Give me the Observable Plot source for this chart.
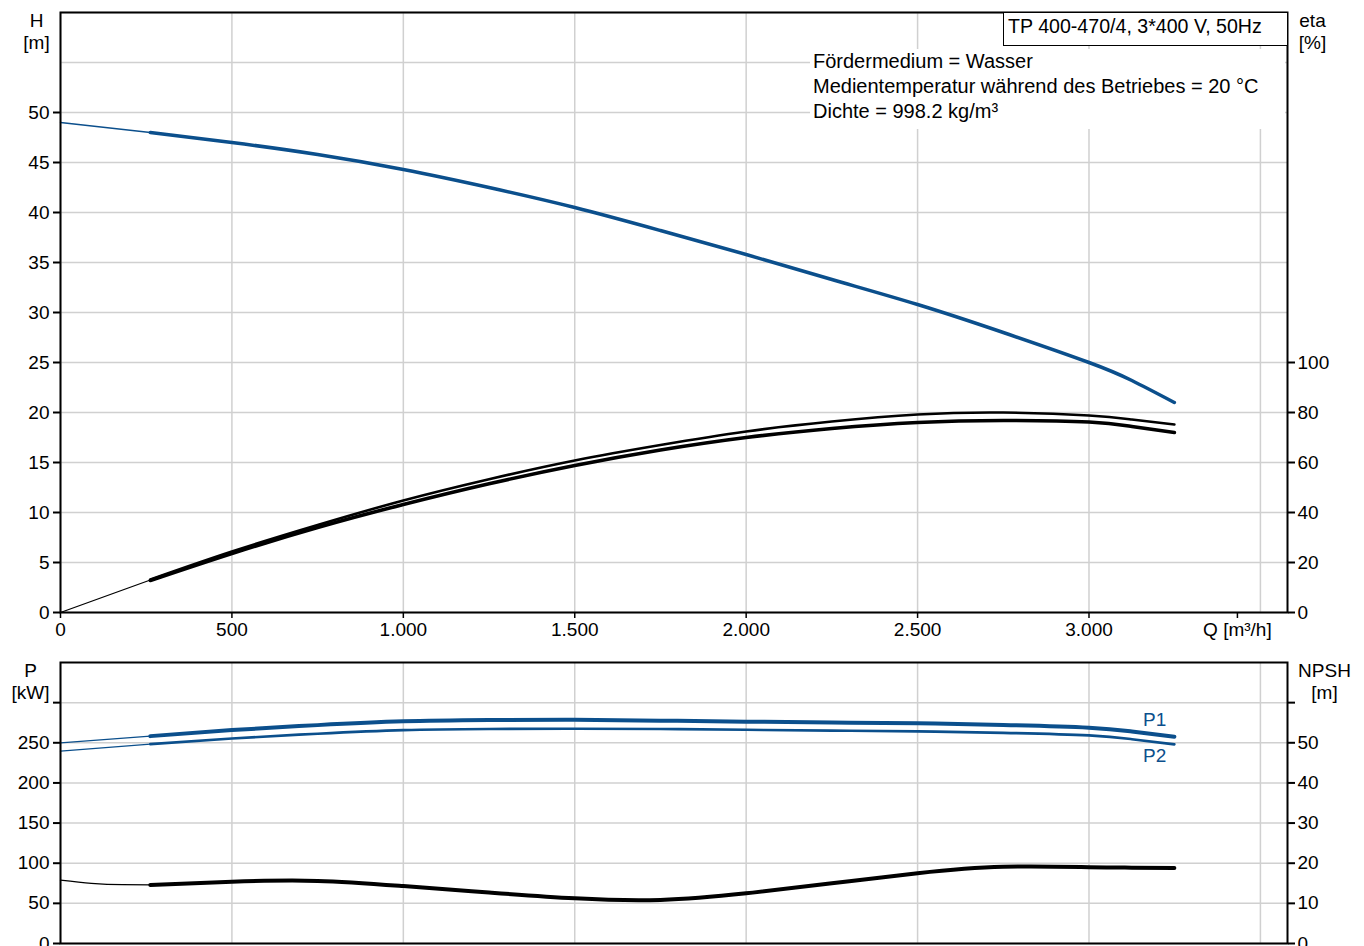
<!DOCTYPE html>
<html>
<head>
<meta charset="utf-8">
<script src="https://cdn.jsdelivr.net/npm/d3@7"></script>
<script src="https://cdn.jsdelivr.net/npm/@observablehq/plot@0.6"></script>
<style>
  html, body { margin: 0; padding: 0; background: white; overflow: hidden; }
  #wrap { position: relative; width: 1364px; height: 946px; font-family: "Liberation Sans", Arial, sans-serif; }
  #wrap svg { display: block; }
  .titlebox { position: absolute; left: 1003px; top: 12px; width: 279px; height: 32px; border: 1px solid #000; background: #fff; font-size: 19.6px; line-height: 26px; padding-left: 4px; white-space: nowrap; }
  .infobox { position: absolute; left: 810px; top: 49px; width: 472px; height: 80px; background: #fff; font-size: 20px; line-height: 25px; padding-left: 3px; white-space: nowrap; }
</style>
</head>
<body>
<div id="wrap">
  <div id="topPanel"></div>
  <div id="bottomPanel"></div>
  <div class="titlebox">TP 400-470/4, 3*400 V, 50Hz</div>
  <div class="infobox">Fördermedium = Wasser<br>Medientemperatur während des Betriebes = 20 °C<br>Dichte = 998.2 kg/m³</div>
</div>
<script>
// ---------- data ----------
const xTicks = [0, 500, 1000, 1500, 2000, 2500, 3000, 3500];
const xTickLabels = ["0", "500", "1.000", "1.500", "2.000", "2.500", "3.000", "Q [m³/h]"];
const hGridTicks = [0, 5, 10, 15, 20, 25, 30, 35, 40, 45, 50, 55, 60];
const hTicks = [0, 5, 10, 15, 20, 25, 30, 35, 40, 45, 50];
const etaTicks = [0, 20, 40, 60, 80, 100];
const etaPerH = 4;          // eta axis: 100 % at H = 25 m
const pTicks = [0, 50, 100, 150, 200, 250, 300];
const pTickLabels = ["0", "50", "100", "150", "200", "250", ""];
const npshTickLabels = ["0", "10", "20", "30", "40", "50", ""];
const pPerNpsh = 5;         // NPSH axis: 50 m at P = 250 kW

// thin (extrapolated) start segments
const qStart = [0, 262];
const headStart = [49.0, 48.0];
const etaStart = [0, 13.0];
const p1Start = [250, 258.3];
const p2Start = [239.6, 248.3];
const qNpshStart = [0, 90, 180, 262];
const npshStart = [15.8, 15.0, 14.65, 14.6];

// main curves
const qMain = [262, 500, 750, 1000, 1250, 1500, 1750, 2000, 2250, 2500, 2750, 3000, 3125, 3249];
const head = [48.0, 47.0, 45.8, 44.3, 42.5, 40.5, 38.2, 35.8, 33.3, 30.8, 28.0, 25.0, 23.2, 21.0];
const etaUpper = [13.2, 24.4, 35.0, 44.8, 53.3, 60.8, 67.0, 72.4, 76.4, 79.2, 80.0, 78.8, 77.2, 75.2];
const etaLower = [12.8, 23.6, 34.0, 43.2, 51.5, 58.8, 65.0, 70.0, 73.6, 76.0, 76.8, 76.2, 74.4, 72.0];
const p1 = [258.3, 265.8, 272.0, 276.7, 278.3, 278.7, 277.6, 276.3, 275.2, 274.2, 272.2, 268.8, 264.0, 257.5];
const p2 = [248.3, 255.4, 261.3, 265.8, 267.2, 267.5, 267.2, 266.2, 265.2, 264.2, 262.4, 259.2, 254.5, 248.0];
const npsh = [14.6, 15.4, 15.6, 14.3, 12.7, 11.25, 10.85, 12.5, 15.0, 17.5, 19.1, 19.0, 18.9, 18.8];

const seriesLabels = ["P1", "P2"];

// ---------- tables ----------
const tbl = (qs, vs, f = v => v) => qs.map((q, i) => ({q, v: f(vs[i])}));
const blue = "#0b4f8c";
const gridColor = "#d0d0d0";
const font = "'Liberation Sans', Arial, sans-serif";
const xLabel = d => xTickLabels[xTicks.indexOf(d)];
const curve = "natural";

const common = {
  width: 1364,
  marginLeft: 60,
  marginRight: 77,
  x: {domain: [0, 3579], axis: null},
  style: {fontFamily: font, fontSize: "19px", color: "#000", background: "white", overflow: "visible"}
};

// ---------- top panel ----------
const topChart = Plot.plot({
  ...common,
  height: 645,
  marginTop: 12,
  marginBottom: 33,
  y: {domain: [0, 60], axis: null},
  marks: [
    Plot.gridX(xTicks, {stroke: gridColor, strokeOpacity: 1, strokeWidth: 1.5}),
    Plot.gridY(hGridTicks, {stroke: gridColor, strokeOpacity: 1, strokeWidth: 1.5}),
    Plot.line(tbl(qStart, headStart), {x: "q", y: "v", stroke: blue, strokeWidth: 1.3}),
    Plot.line(tbl(qStart, etaStart, e => e / etaPerH), {x: "q", y: "v", stroke: "#000", strokeWidth: 1.3}),
    Plot.line(tbl(qMain, etaUpper, e => e / etaPerH), {x: "q", y: "v", stroke: "#000", strokeWidth: 2.6, curve}),
    Plot.line(tbl(qMain, etaLower, e => e / etaPerH), {x: "q", y: "v", stroke: "#000", strokeWidth: 3.6, curve}),
    Plot.line(tbl(qMain, head), {x: "q", y: "v", stroke: blue, strokeWidth: 3.5, curve}),
    Plot.frame({stroke: "#000", strokeWidth: 2}),
    Plot.axisX(xTicks.slice(0, 7), {anchor: "bottom", tickSize: 6, tickPadding: 4, strokeWidth: 1.5, tickFormat: xLabel, label: null, fontSize: 19}),
    Plot.axisX([3500], {anchor: "bottom", tickSize: 6, tickPadding: 4, strokeWidth: 1.5, tickFormat: xLabel, label: null, fontSize: 19, dx: -23}),
    Plot.axisY(hTicks, {anchor: "left", tickSize: 7, tickPadding: 4, strokeWidth: 2, label: null, fontSize: 19}),
    Plot.axisY(etaTicks.map(e => e / etaPerH), {anchor: "right", tickSize: 7, tickPadding: 3, strokeWidth: 2, tickFormat: d => String(Math.round(d * etaPerH)), label: null, fontSize: 19}),
    Plot.text(["H\n[m]"], {frameAnchor: "top-left", dx: -24, dy: -1, lineAnchor: "top", textAnchor: "middle", lineHeight: 1.15, fontSize: 19}),
    Plot.text(["eta\n[%]"], {frameAnchor: "top-right", dx: 25, dy: -1, lineAnchor: "top", textAnchor: "middle", lineHeight: 1.15, fontSize: 19})
  ]
});
document.getElementById("topPanel").append(topChart);

// ---------- bottom panel ----------
const p1Tbl = tbl(qMain, p1);
const p2Tbl = tbl(qMain, p2);
const bottomChart = Plot.plot({
  ...common,
  height: 328,
  marginTop: 17,
  marginBottom: 30,
  y: {domain: [0, 350], axis: null},
  marks: [
    Plot.gridX(xTicks, {stroke: gridColor, strokeOpacity: 1, strokeWidth: 1.5}),
    Plot.gridY(pTicks, {stroke: gridColor, strokeOpacity: 1, strokeWidth: 1.5}),
    Plot.line(tbl(qStart, p1Start), {x: "q", y: "v", stroke: blue, strokeWidth: 1.3}),
    Plot.line(tbl(qStart, p2Start), {x: "q", y: "v", stroke: blue, strokeWidth: 1.3}),
    Plot.line(tbl(qNpshStart, npshStart, n => n * pPerNpsh), {x: "q", y: "v", stroke: "#000", strokeWidth: 1.3, curve: "monotone-x"}),
    Plot.line(tbl(qMain, npsh, n => n * pPerNpsh), {x: "q", y: "v", stroke: "#000", strokeWidth: 4, curve}),
    Plot.line(p2Tbl, {x: "q", y: "v", stroke: blue, strokeWidth: 2.6, curve}),
    Plot.line(p1Tbl, {x: "q", y: "v", stroke: blue, strokeWidth: 4, curve}),
    Plot.text([p1Tbl[p1Tbl.length - 1]], {x: "q", y: "v", text: () => seriesLabels[0], fill: blue, textAnchor: "end", dx: -8, dy: -17, fontSize: 19}),
    Plot.text([p2Tbl[p2Tbl.length - 1]], {x: "q", y: "v", text: () => seriesLabels[1], fill: blue, textAnchor: "end", dx: -8, dy: 12, fontSize: 19}),
    Plot.frame({stroke: "#000", strokeWidth: 2}),
    Plot.axisY(pTicks, {anchor: "left", tickSize: 7, tickPadding: 4, strokeWidth: 2, tickFormat: d => pTickLabels[pTicks.indexOf(d)], label: null, fontSize: 19}),
    Plot.axisY(pTicks, {anchor: "right", tickSize: 7, tickPadding: 3, strokeWidth: 2, tickFormat: d => npshTickLabels[pTicks.indexOf(d)], label: null, fontSize: 19}),
    Plot.text(["P\n[kW]"], {frameAnchor: "top-left", dx: -30, dy: -1, lineAnchor: "top", textAnchor: "middle", lineHeight: 1.15, fontSize: 19}),
    Plot.text(["NPSH\n[m]"], {frameAnchor: "top-right", dx: 37, dy: -1, lineAnchor: "top", textAnchor: "middle", lineHeight: 1.15, fontSize: 19})
  ]
});
document.getElementById("bottomPanel").append(bottomChart);
</script>
</body>
</html>
